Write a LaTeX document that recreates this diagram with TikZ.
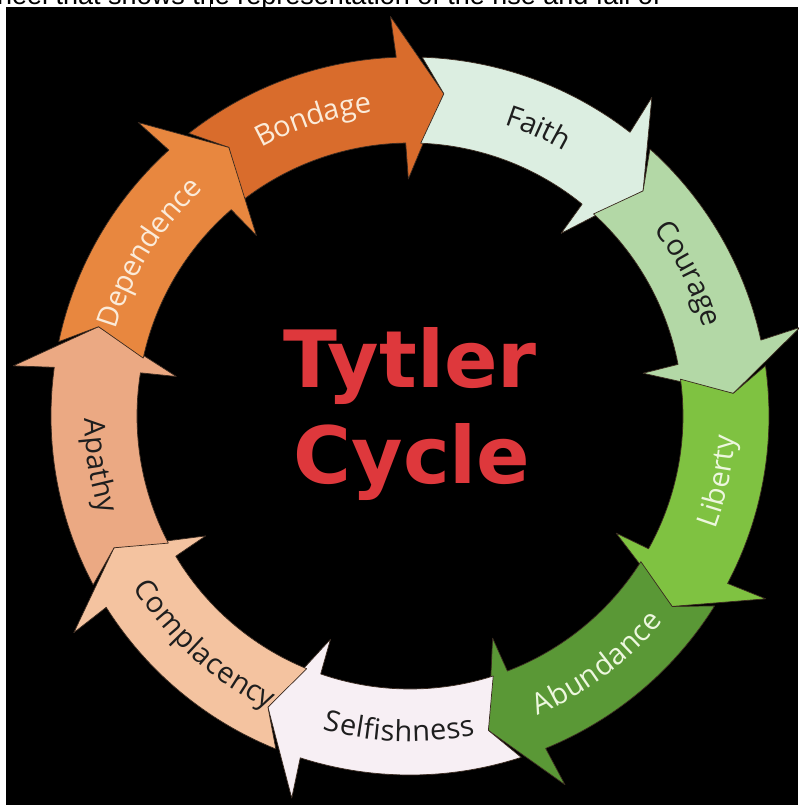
\documentclass[tikz,border=0pt]{standalone}
\usepackage{fontspec}
\setmainfont{Open Sans}
\newfontfamily\ringfamily{Open Sans}
\newfontfamily\titlefamily{DejaVu Sans}
\newfontfamily\stripfamily{Liberation Sans}
\usetikzlibrary{decorations.text}

\definecolor{bondage}{HTML}{D96C2C}
\definecolor{faith}{HTML}{DCEEE1}
\definecolor{courage}{HTML}{B3D8A6}
\definecolor{liberty}{HTML}{7FC241}
\definecolor{abundance}{HTML}{5A9836}
\definecolor{selfish}{HTML}{F7EFF4}
\definecolor{complacency}{HTML}{F4C3A0}
\definecolor{apathy}{HTML}{EBA983}
\definecolor{dependence}{HTML}{E8873F}
\definecolor{darktext}{HTML}{1E1E1E}
\definecolor{warmtext}{HTML}{FBEBD9}
\definecolor{leaftext}{HTML}{EDF7DE}
\definecolor{titlered}{HTML}{DE383C}
\definecolor{rim}{HTML}{3A2A20}

\newcommand\ringfont{\ringfamily\fontsize{29}{31}\selectfont}
\newcommand\titlefont{\titlefamily\bfseries\fontsize{79}{82}\selectfont}

\tikzset{
  arrowpiece/.style={
    draw=rim,line width=0.7pt,line join=round,fill=#1,
  },
  ringlabel/.style 2 args={
    decorate,
    decoration={text along path,text align=center,raise=-9.5pt,
      text={|\ringfont\color{#1}|#2}},
  },
  titletext/.style={
    font=\titlefont,text=titlered,inner sep=0pt,anchor=base,
  }
}

\begin{document}
\begin{tikzpicture}[x=1pt,y=1pt]
    \useasboundingbox (-410,-390) rectangle (388,416);
    \fill[white] (-410,-390) rectangle (388,416);
    \fill[black] (-404,-389) rectangle (388,409);

    % caption line cut off at the top
    \begin{scope}
      \clip (-410,409) rectangle (388,416);
      \node[anchor=base west,inner sep=0pt,font=\stripfamily\fontsize{27}{30}\selectfont]
        (caption) at (-413,411) {heel that shows the representation of the rise and fall of};
    \end{scope}
    \draw[line width=0.8pt] (-200,409) -- (-200,416);

    % the nine arrows, clockwise
    \foreach \t/\col in {84/bondage,44/faith,4/courage,-36/liberty,-76/abundance,
                         -116/selfish,-156/complacency,-196/apathy,-236/dependence}
      \draw[arrowpiece=\col] ({\t+44.05}:359)
        arc[start angle=\t+44.05,end angle=\t+8.2,radius=359pt]
        -- ({\t+8.8}:400) -- (\t:324) -- ({\t+6.4}:237) -- ({\t+6.9}:273)
        arc[start angle=\t+6.9,end angle=\t+43.75,radius=273pt]
        -- ({\t+40}:324) -- cycle;

    \path[ringlabel={warmtext}{Bondage}]     (128:316) arc[start angle=128,end angle=88,radius=316pt];
    \path[ringlabel={darktext}{Faith}]       (86:316)  arc[start angle=86,end angle=46,radius=316pt];
    \path[ringlabel={darktext}{Courage}]     (47:316)  arc[start angle=47,end angle=7,radius=316pt];
    \path[ringlabel={leaftext}{Liberty}]     (-32:316) arc[start angle=-32,end angle=8,radius=316pt];
    \path[ringlabel={leaftext}{Abundance}]   (-73:316) arc[start angle=-73,end angle=-33,radius=316pt];
    \path[ringlabel={darktext}{Selfishness}] (-112:316) arc[start angle=-112,end angle=-72,radius=316pt];
    \path[ringlabel={darktext}{Complacency}] (-152:316) arc[start angle=-152,end angle=-112,radius=316pt];
    \path[ringlabel={darktext}{Apathy}]      (-191:316) arc[start angle=-191,end angle=-151,radius=316pt];
    \path[ringlabel={warmtext}{Dependence}]  (168:316) arc[start angle=168,end angle=128,radius=316pt];

    \node[titletext] (tytler) at (0,28)  {Tytler};
    \node[titletext] (cycle)  at (2,-67) {Cycle};
\end{tikzpicture}
\end{document}
